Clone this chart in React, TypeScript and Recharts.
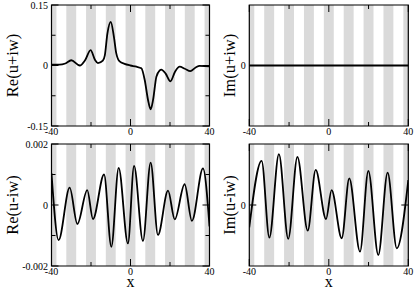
import React from 'react'
import { LineChart, Line, XAxis, YAxis, ReferenceArea, ReferenceLine } from 'recharts'

const W = 415
const H = 290
const FONT = '"Liberation Serif", "DejaVu Serif", serif'

// grey bands, 5 wide, centred on every multiple of 10
const bandStarts = [-40, -32.5, -22.5, -12.5, -2.5, 7.5, 17.5, 27.5, 37.5]
const bandEnds = [-37.5, -27.5, -17.5, -7.5, 2.5, 12.5, 22.5, 32.5, 40]

const xTicks = [-40, -20, 0, 20, 40]
const xMajor = [-40, 0, 40]

// Re(u+iw)
const reUpX = [-40, -36, -33, -30, -25.7, -23, -20.2, -18, -16.5, -14, -13, -11.7, -10, -8.4, -7.2, -5.5, -3, 0,
  3, 5.5, 7.2, 8.9, 10.2, 11.4, 13.1, 14.8, 15.6, 17.8, 20.2, 22.5, 24.9, 27.5, 30.3, 33, 35, 40]
const reUpY = [0.002, 0.002, 0.005, 0.013, 0.0, 0.013, 0.038, 0.014, 0.006, 0.012, 0.025, 0.079, 0.108, 0.071, 0.03, 0.01, 0.004, 0,
  -0.003, -0.007, -0.036, -0.086, -0.109, -0.086, -0.028, -0.012, -0.01, -0.02, -0.039, -0.016, -0.003, -0.008, -0.014, -0.005, -0.001, -0.002]

// Im(u+iw)
const imUpX = [-40, 40]
const imUpY = [0, 0]

// Re(u-iw)
const reDownX = [-40, -36.4, -30.8, -26.9, -21.9, -19, -13.4, -9.7, -6, -1.3, 1.8, 6.3, 10.2, 13.9, 19, 22.4, 27.4, 31.1, 36.7, 40]
const reDownY = [0.00104, -0.00115, 0.00057, -0.00062, 0.00049, -0.00046, 0.001, -0.00137, 0.00122, -0.00126,
  0.00128, -0.00118, 0.00139, -0.00098, 0.00047, -0.00047, 0.00068, -0.00052, 0.0012, -0.0007]

// Im(u-iw)
const imDownX = [-40, -33.8, -29.9, -25.1, -20.4, -15.8, -10.6, -6.6, -1.4, 1.4, 6.5, 10.3, 15.7, 19.9, 24.9, 29.6, 34.2, 40]
const imDownY = [-0.00073, 0.00145, -0.00107, 0.00167, -0.00111, 0.00158, -0.00084, 0.00115, -0.00046,
  0.00049, -0.00109, 0.00087, -0.00153, 0.00112, -0.00164, 0.00106, -0.00142, 0.00082]

const upTicks = [-0.15, -0.075, 0, 0.075, 0.15]
const upMajor = [-0.15, 0, 0.15]
const downTicks = [-0.002, -0.001, 0, 0.001, 0.002]
const downMajor = [-0.002, 0, 0.002]
const zeroTick = [0]

const MAJOR = 7
const MINOR = 4
const AX_B = 12

// x ticks point inward from both the bottom and the top edge of the frame
function makeXTick(plotH: number) {
  return (props: any) => {
    const { x, y, payload } = props
    const v = payload.value
    const isMajor = xMajor.includes(v)
    const len = isMajor ? MAJOR : MINOR
    const top = y - plotH
    return (
      <g>
        <line x1={x} y1={y} x2={x} y2={y - len} stroke="#000" strokeWidth={1} />
        <line x1={x} y1={top} x2={x} y2={top + len} stroke="#000" strokeWidth={1} />
        {isMajor && (
          <text x={x} y={y + 9} textAnchor="middle" fontSize={10} fontFamily={FONT} fill="#000">
            {String(v)}
          </text>
        )}
      </g>
    )
  }
}

// cell = [left, top, width, height] of the chart on the page, box = plot frame on the page
function Panel({ cell, box, xs, ys, yDomain, yTicks, yMajor }: any) {
  const [ox, oy, w, h] = cell
  const [l, t, r, b] = box
  const plotH = b - t
  const pxPerX = (r - l) / 80
  const data = xs.map((x: number, i: number) => ({ x, y: ys[i] }))
  const margin = { left: l - ox, top: t - oy, right: ox + w - r, bottom: oy + h - b - AX_B }
  return (
    <div style={{ position: 'absolute', left: ox, top: oy }}>
      <LineChart width={w} height={h} data={data} margin={margin}>
        <XAxis dataKey="x" type="number" domain={[-40, 40]} ticks={xTicks} interval={0}
          height={AX_B} tickSize={0} tickMargin={0} tickLine={false} axisLine={false}
          tick={makeXTick(plotH)} allowDataOverflow />
        <YAxis type="number" domain={yDomain} hide allowDataOverflow />
        {bandStarts.map((s, i) => (
          <ReferenceArea key={'band' + i} x1={s} x2={bandEnds[i]}
            fill="#dadada" fillOpacity={1} stroke="none" />
        ))}
        <ReferenceArea x1={-40} x2={40} y1={yDomain[0]} y2={yDomain[1]}
          fill="none" stroke="#000" strokeWidth={1.2} />
        {yTicks.map((v: number) => {
          const isMajor = yMajor.includes(v)
          const len = (isMajor ? MAJOR : MINOR) / pxPerX
          return (
            <ReferenceLine key={'yl' + v} segment={[{ x: -40, y: v }, { x: -40 + len, y: v }]}
              stroke="#000" strokeWidth={1}
              label={isMajor ? { value: String(v), position: 'left', offset: 3.5, fontSize: 10, fontFamily: FONT, fill: '#000' } : undefined} />
          )
        })}
        {yTicks.map((v: number) => {
          const len = (yMajor.includes(v) ? MAJOR : MINOR) / pxPerX
          return (
            <ReferenceLine key={'yr' + v} segment={[{ x: 40 - len, y: v }, { x: 40, y: v }]}
              stroke="#000" strokeWidth={1} />
          )
        })}
        <Line dataKey="y" type="monotone" stroke="#000" strokeWidth={1.8}
          dot={false} activeDot={false} isAnimationActive={false} />
      </LineChart>
    </div>
  )
}

export default function App() {
  return (
    <div style={{ position: 'absolute', left: 0, top: 0, width: W, height: H, background: '#fff' }}>
      <Panel cell={[0, 0, 225, 145]} box={[51.5, 5, 209.5, 126]} xs={reUpX} ys={reUpY}
        yDomain={[-0.15, 0.15]} yTicks={upTicks} yMajor={upMajor} />
      <Panel cell={[205, 0, 210, 145]} box={[249.3, 5, 408.3, 126]} xs={imUpX} ys={imUpY}
        yDomain={[-1, 1]} yTicks={zeroTick} yMajor={zeroTick} />
      <Panel cell={[0, 138, 225, 152]} box={[51.5, 144, 209.5, 266]} xs={reDownX} ys={reDownY}
        yDomain={[-0.002, 0.002]} yTicks={downTicks} yMajor={downMajor} />
      <Panel cell={[205, 138, 210, 152]} box={[249.3, 144, 408.3, 266]} xs={imDownX} ys={imDownY}
        yDomain={[-0.002, 0.002]} yTicks={zeroTick} yMajor={zeroTick} />
      <svg width={W} height={H} style={{ position: 'absolute', left: 0, top: 0, pointerEvents: 'none' }}
        fontFamily={FONT} fontSize={16.5} fill="#000">
        <text transform="translate(17.5,65.5) rotate(-90)" textAnchor="middle">Re(u+iw)</text>
        <text transform="translate(234.5,65.5) rotate(-90)" textAnchor="middle">Im(u+iw)</text>
        <text transform="translate(17.5,205) rotate(-90)" textAnchor="middle">Re(u-iw)</text>
        <text transform="translate(234.5,205) rotate(-90)" textAnchor="middle">Im(u-iw)</text>
        <text x={130.5} y={286.5} fontSize={16} textAnchor="middle">x</text>
        <text x={328.8} y={286.5} fontSize={16} textAnchor="middle">x</text>
      </svg>
    </div>
  )
}
